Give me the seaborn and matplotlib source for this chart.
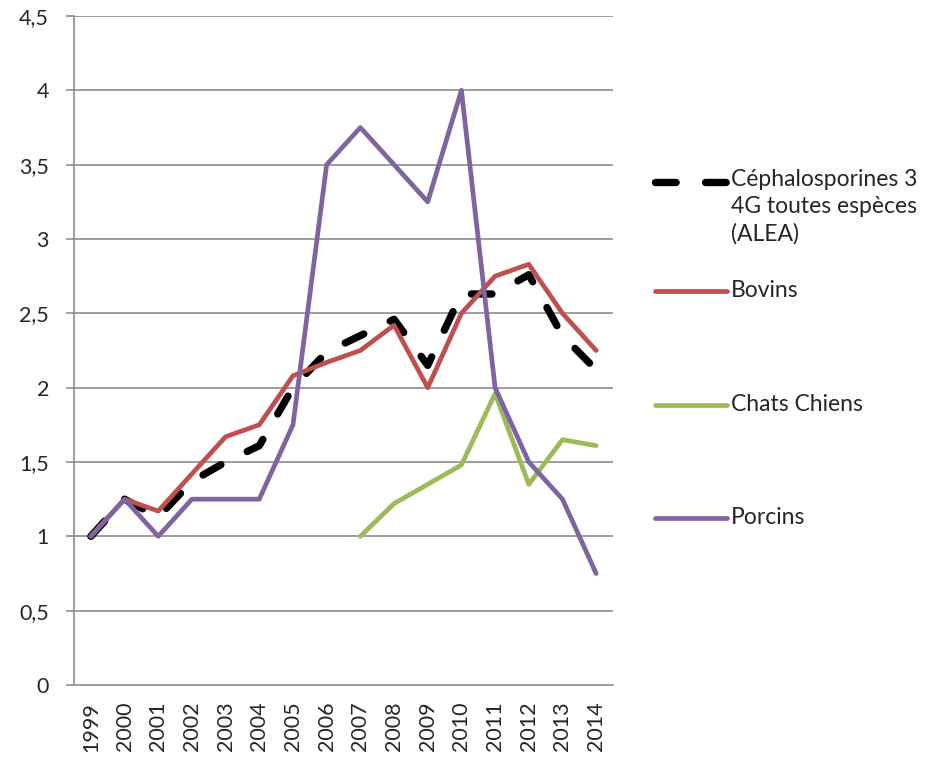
import numpy as np
import pandas as pd
import seaborn as sns
import matplotlib.pyplot as plt
from matplotlib.lines import Line2D
from matplotlib.ticker import FuncFormatter, FixedLocator

# data
years = ["1999", "2000", "2001", "2002", "2003", "2004", "2005", "2006",
         "2007", "2008", "2009", "2010", "2011", "2012", "2013", "2014"]
alea = [1.0, 1.25, 1.13, 1.37, 1.5, 1.61, 2.0, 2.24,
        2.35, 2.46, 2.15, 2.63, 2.63, 2.76, 2.35, 2.12]
bovins = [1.0, 1.25, 1.17, 1.42, 1.67, 1.75, 2.08, 2.17,
          2.25, 2.42, 2.0, 2.5, 2.75, 2.83, 2.5, 2.25]
chats = [np.nan] * 8 + [1.0, 1.22, 1.35, 1.48, 1.96, 1.35, 1.65, 1.61]
porcins = [1.0, 1.25, 1.0, 1.25, 1.25, 1.25, 1.75, 3.5,
           3.75, 3.5, 3.25, 4.0, 2.0, 1.5, 1.25, 0.75]

labels = ["Céphalosporines 3\n4G toutes espèces\n(ALEA)", "Bovins",
          "Chats Chiens", "Porcins"]
colors = ["#000000", "#C0504D", "#9BBB59", "#8064A2"]

df = pd.DataFrame({"idx": range(len(years)), "alea": alea, "bovins": bovins,
                   "chats": chats, "porcins": porcins})

sns.set_style("white")
plt.rcParams["font.family"] = ["Lato", "DejaVu Sans"]

fig = plt.figure(figsize=(9.47, 7.57), dpi=100)
ax = fig.add_axes([74 / 947, 1 - 685 / 757, (613 - 74) / 947, (685 - 16) / 757])

grid_c = "#8C8C8C"
for v in np.arange(0.5, 4.51, 0.5):
    ax.axhline(v, color=grid_c, lw=1.2, zorder=0)

dash = (2.8, 4.0)
sns.lineplot(data=df, x="idx", y="alea", ax=ax, color=colors[0], lw=5.3)
ax.lines[-1].set_dashes(dash)
ax.lines[-1].set_dash_capstyle("round")
for col, c in zip(["bovins", "chats", "porcins"], colors[1:]):
    sns.lineplot(data=df, x="idx", y=col, ax=ax, color=c, lw=3.4,
                 solid_capstyle="round", solid_joinstyle="round")

ax.set_xlim(-0.5, len(years) - 0.5)
ax.set_ylim(0, 4.5)
ax.set_xlabel("")
ax.set_ylabel("")

ax.xaxis.set_major_locator(FixedLocator(range(len(years))))
ax.set_xticklabels(years, rotation=90, fontsize=15.5)
ax.xaxis.set_minor_locator(FixedLocator(np.arange(-0.5, len(years), 1)))
ax.tick_params(axis="x", which="major", length=0, pad=12)
ax.tick_params(axis="x", which="minor", length=6, width=1.2, color=grid_c, direction="out")

ax.set_yticks(np.arange(0, 4.51, 0.5))
ax.yaxis.set_major_formatter(FuncFormatter(lambda v, p: f"{v:g}".replace(".", ",")))
ax.tick_params(axis="y", length=6, width=1.2, color=grid_c, labelsize=15.5, pad=12, left=True)

for s in ["top", "right"]:
    ax.spines[s].set_visible(False)
for s in ["left", "bottom"]:
    ax.spines[s].set_color(grid_c)
    ax.spines[s].set_linewidth(1.2)

# legend drawn by hand to follow the original spacing
x0, x1, xt = 655 / 947, 727 / 947, 731 / 947
leg_y = [182, 291, 405, 518]
for i, (lab, c, yy) in enumerate(zip(labels, colors, leg_y)):
    yf = 1 - yy / 757
    ln = Line2D([x0, x1], [yf, yf], transform=fig.transFigure, color=c,
                lw=5.3 if i == 0 else 3.4, solid_capstyle="round")
    if i == 0:
        ln.set_dashes(dash)
        ln.set_dash_capstyle("round")
        fig.text(xt, 1 - (yy - 13) / 757, lab, fontsize=16.5, va="top",
                 ha="left", linespacing=1.34)
    else:
        fig.text(xt, yf + 0.001, lab, fontsize=16.5, va="center", ha="left")
    fig.add_artist(ln)

fig.savefig("out.png", dpi=100)
